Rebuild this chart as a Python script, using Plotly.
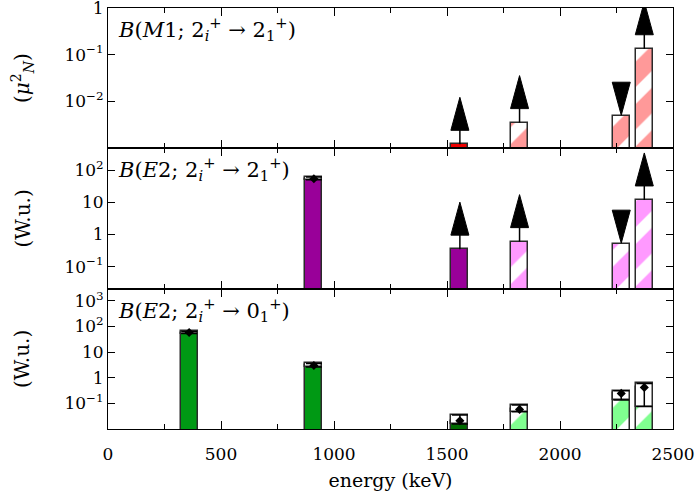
import plotly.graph_objects as go
from plotly.subplots import make_subplots

# ---------------- data ----------------
# Top panel: B(M1; 2_i+ -> 2_1+)  (mu_N^2)
m1_energy = [1557, 1821, 2271, 2373]
m1_value = [0.0012, 0.0035, 0.0048, 0.134]
m1_limit = ["lower", "lower", "upper", "lower"]
m1_solid = [True, False, False, False]

# Middle panel: B(E2; 2_i+ -> 2_1+)  (W.u.)
e2a_energy = [911, 1557, 1821, 2271, 2373]
e2a_value = [54, 0.35, 0.6, 0.5, 12]
e2a_limit = ["none", "lower", "lower", "upper", "lower"]
e2a_solid = [True, True, False, False, False]
e2a_err_energy = [911]
e2a_err_value = [55]
e2a_err_lo = [51]
e2a_err_hi = [62]

# Bottom panel: B(E2; 2_i+ -> 0_1+)  (W.u.)
e2b_energy = [359, 911, 1557, 1821, 2271, 2373]
e2b_value = [58, 3.0, 0.021, 0.058, 0.245, 0.42]
e2b_lo = [53, 2.6, 0.0155, 0.047, 0.135, 0.075]
e2b_hi = [64, 3.6, 0.035, 0.086, 0.31, 0.6]
e2b_solid = [True, True, True, False, False, False]
e2b_solid_colors = ["#009914", "#009914", "#006a00", "#009914", "#009914", "#009914"]

y1_ticks = [1, 0.1, 0.01]
y1_text = ["1", "10<sup>−1</sup>", "10<sup>−2</sup>"]
y2_ticks = [100, 10, 1, 0.1]
y2_text = ["10<sup>2</sup>", "10", "1", "10<sup>−1</sup>"]
y3_ticks = [1000, 100, 10, 1, 0.1]
y3_text = ["10<sup>3</sup>", "10<sup>2</sup>", "10", "1", "10<sup>−1</sup>"]

# ---------------- figure ----------------
FONT = "DejaVu Serif"
BAR_W = 75
OUTLINE = "#2a2a2a"

fig = make_subplots(rows=3, cols=1, shared_xaxes=True, vertical_spacing=0)


def add_bars(row, energy, value, solid, solid_colors, hatch_color):
    sx = [e for e, s in zip(energy, solid) if s]
    sy = [v for v, s in zip(value, solid) if s]
    sc = [c for c, s in zip(solid_colors, solid) if s]
    hx = [e for e, s in zip(energy, solid) if not s]
    hy = [v for v, s in zip(value, solid) if not s]
    if sx:
        fig.add_trace(go.Bar(
            x=sx, y=sy, width=BAR_W, showlegend=False,
            marker=dict(color=sc, line=dict(color=OUTLINE, width=1.5)),
        ), row=row, col=1)
    if hx:
        fig.add_trace(go.Bar(
            x=hx, y=hy, width=BAR_W, showlegend=False,
            marker=dict(color=hatch_color, line=dict(color=OUTLINE, width=1.5),
                        pattern=dict(shape="/", fgcolor=hatch_color, bgcolor="white",
                                     fgopacity=1, size=30, solidity=0.6)),
        ), row=row, col=1)


def add_errors(row, energy, value, lo, hi):
    fig.add_trace(go.Bar(
        x=energy, y=[h - l for h, l in zip(hi, lo)], base=lo, width=BAR_W,
        showlegend=False,
        marker=dict(color="white", line=dict(color=OUTLINE, width=1.5)),
    ), row=row, col=1)
    fig.add_trace(go.Scatter(
        x=energy, y=value, mode="markers", showlegend=False,
        marker=dict(symbol="diamond", size=7, color="black"),
        error_y=dict(type="data", symmetric=False,
                     array=[h - v for h, v in zip(hi, value)],
                     arrayminus=[v - l for v, l in zip(value, lo)],
                     width=8, thickness=1.5, color="black"),
    ), row=row, col=1)


def add_arrows(xref, yref, energy, value, limits):
    for e, v, k in zip(energy, value, limits):
        common = dict(type="path", xref=xref, yref=yref, xsizemode="pixel",
                      ysizemode="pixel", xanchor=e, yanchor=v, layer="above")
        if k == "lower":
            fig.add_shape(path="M 0,0 L 0,15", line=dict(color="black", width=1.5), **common)
            fig.add_shape(path="M -9,14 L 9,14 L 0,47 Z", fillcolor="black",
                          line=dict(color="black", width=1), **common)
        elif k == "upper":
            fig.add_shape(path="M -9,34 L 9,34 L 0,1 Z", fillcolor="black",
                          line=dict(color="black", width=1), **common)


add_bars(1, m1_energy, m1_value, m1_solid, ["#ee0000"] * 4, "#ff9999")
add_bars(2, e2a_energy, e2a_value, e2a_solid, ["#990099"] * 5, "#ff99ff")
add_errors(2, e2a_err_energy, e2a_err_value, e2a_err_lo, e2a_err_hi)
add_bars(3, e2b_energy, e2b_value, e2b_solid, e2b_solid_colors, "#80ff90")
add_errors(3, e2b_energy, e2b_value, e2b_lo, e2b_hi)

add_arrows("x", "y", m1_energy, m1_value, m1_limit)
add_arrows("x2", "y2", e2a_energy, e2a_value, e2a_limit)

# ---------------- layout ----------------
H_PLOT = 421.0
LW = 1
d3 = [0, 140 / H_PLOT]
d2 = [140 / H_PLOT, 281 / H_PLOT]
d1 = [281 / H_PLOT, 1]

axis_common = dict(showline=True, linecolor="black", linewidth=LW, mirror="ticks",
                   ticks="inside", tickcolor="black", tickwidth=1.2, showgrid=False,
                   zeroline=False, ticklabeloverflow="allow", automargin=False,
                   tickfont=dict(family=FONT, size=17, color="black"))

xcommon = dict(axis_common, range=[0, 2500], tickvals=[0, 500, 1000, 1500, 2000, 2500],
               ticklen=8, minor=dict(dtick=250, ticks="inside", ticklen=5,
                                     tickcolor="black", tickwidth=1.2))

fig.update_layout(
    width=695, height=496,
    margin=dict(l=108, r=22, t=8, b=67),
    paper_bgcolor="white", plot_bgcolor="white",
    barmode="overlay", bargap=0,
    font=dict(family=FONT, size=17, color="black"),
    xaxis=dict(xcommon, showticklabels=False),
    xaxis2=dict(xcommon, showticklabels=False),
    xaxis3=dict(xcommon, showticklabels=True, ticklabelstandoff=10,
                title=dict(text="energy (keV)", font=dict(family=FONT, size=19), standoff=10)),
    yaxis=dict(axis_common, type="log", domain=d1, range=[-3, 0.0005],
               tickvals=y1_ticks, ticktext=y1_text, ticklen=7),
    yaxis2=dict(axis_common, type="log", domain=d2, range=[-1.7, 2.7],
                tickvals=y2_ticks, ticktext=y2_text, ticklen=7),
    yaxis3=dict(axis_common, type="log", domain=d3, range=[-2, 3.46],
                tickvals=y3_ticks, ticktext=y3_text, ticklen=7),
)

labels = [
    ("y", "<i>B</i>(<i>M</i>1; 2<sub><i>i</i></sub><sup>+</sup> → 2<sub>1</sub><sup>+</sup>)"),
    ("y2", "<i>B</i>(<i>E</i>2; 2<sub><i>i</i></sub><sup>+</sup> → 2<sub>1</sub><sup>+</sup>)"),
    ("y3", "<i>B</i>(<i>E</i>2; 2<sub><i>i</i></sub><sup>+</sup> → 0<sub>1</sub><sup>+</sup>)"),
]
for yref, txt in labels:
    fig.add_annotation(text=txt, xref="x domain", yref=yref + " domain", x=0.015, y=0.97,
                       xanchor="left", yanchor="top", showarrow=False,
                       font=dict(family=FONT, size=21, color="black"))

ytitles = [
    ("y", "(<i>μ</i><sup>2</sup><sub><i>N</i></sub>)"),
    ("y2", "(W.u.)"),
    ("y3", "(W.u.)"),
]
for yref, txt in ytitles:
    fig.add_annotation(text=txt, xref="paper", yref=yref + " domain",
                       x=(22 - 108) / 565.0, y=0.5, xanchor="center", yanchor="middle",
                       textangle=-90, showarrow=False,
                       font=dict(family=FONT, size=20, color="black"))

fig.write_html("out.html")
